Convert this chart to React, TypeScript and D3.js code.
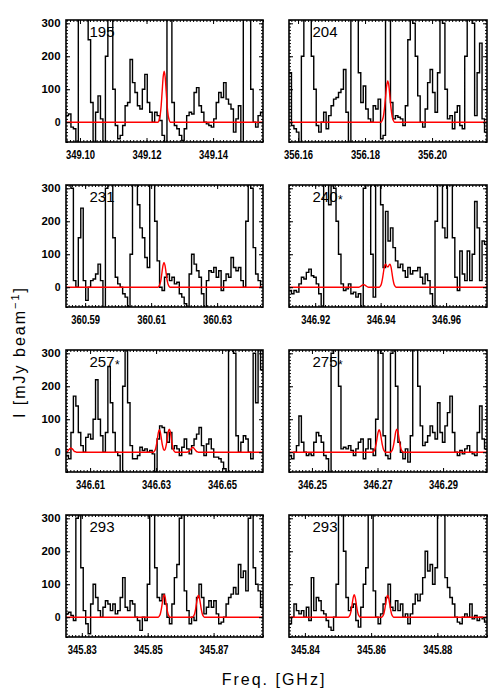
import React, { useEffect, useRef } from "react";
import * as d3 from "d3";

// observed spectra, 80 channels spanning each panel (mJy/beam)
const spec195 = [20, 25, -15, -20, -70, 400, 600, 700, 500, 250,
  60, -80, 30, 80, 10, -80, 200, 600, 350, 100,
  -10, -50, -40, -10, 50, 60, 190, 120, 90, 50,
  40, 100, 145, 60, 30, 0, 30, 20, 5, -40,
  -70, 500, 400, 60, -10, -20, -40, -55, -20, 20,
  30, 25, 90, 105, 50, 30, 0, -5, -10, -15,
  10, 60, 90, 75, 120, 70, 55, 40, -30, 10,
  50, -60, 400, 600, 400, 100, 0, -15, 20, 30];
const spec204 = [150, -10, -20, -30, -70, 200, 450, 600, 350, 200,
  100, -10, -30, 0, 30, -20, 20, 50, 70, 75,
  90, 100, 160, 30, -70, 400, 600, 350, 150, 60,
  110, 40, 10, 0, 50, 40, 70, -50, -40, 400,
  500, 60, 10, 20, 15, 10, -10, 50, 250, 500,
  300, 200, 80, 0, -15, 40, 120, 160, 90, 30,
  150, 500, 300, 100, 10, 20, -20, 30, 50, -10,
  -20, 200, 500, 500, 300, 20, 150, 240, 10, -30];
const spec231 = [500, 600, 300, 20, 0, 150, 240, 20, -40, 0,
  20, 25, 40, 70, 20, -70, 300, 600, 400, 150,
  30, 10, 0, -20, -30, -60, 100, 500, 450, 250,
  180, 150, 90, 60, 400, 500, 200, 80, 0, -10,
  30, 40, 20, 30, 10, 15, -20, -30, -50, -70,
  40, 100, 70, 50, 30, -20, -70, 20, 50, 45,
  60, 30, 50, -10, 20, 40, 30, 90, 60, 50,
  60, 20, 0, 200, 500, 300, 120, 40, 20, 0];
const spec240 = [-10, -20, -10, -15, 10, 30, 25, 45, 55, 35,
  30, 10, -20, -80, 400, 600, 250, 500, 300, 200,
  100, 10, -10, -5, 10, -20, -15, -30, -20, -80,
  300, 600, 500, 100, -30, 400, 600, 250, 60, 230,
  140, 180, 120, 80, 60, 70, 50, 30, 60, 40,
  50, 50, 60, 30, 10, 40, 20, -20, -70, 200,
  500, 600, 180, 150, 600, 400, 150, 30, -10, 110,
  40, 20, 110, 20, 100, 260, 180, 20, 140, 130];
const spec257 = [-10, -20, 60, 170, 140, 60, 20, 0, 45, 55,
  40, 100, 220, 100, 50, 0, 60, 260, 150, 60,
  0, -10, -70, 200, 500, 150, 20, -20, -20, -10,
  15, 5, 10, 0, 5, -5, -60, 40, 80, 75,
  60, 30, 60, 10, 20, 10, -10, 15, 40, 10,
  -5, 20, 40, 55, 75, 20, -10, 25, 40, 10,
  -15, -15, -20, -30, -50, -70, 400, 600, 300, 50,
  0, 30, 50, 40, 0, -20, 300, 150, 500, 250];
const spec275 = [-10, -20, 0, 20, 110, 30, 0, -10, -5, -10,
  30, 60, 50, 30, -10, -20, -80, 300, 600, 450,
  200, 10, 15, 10, 20, 5, -10, 10, 30, 40,
  -20, 10, 40, 10, -10, 100, 500, 300, 50, -10,
  -20, 300, 600, 200, 30, 0, -20, 10, -30, 50,
  500, 400, 200, 80, 20, 30, 50, 80, 60, 40,
  150, 60, 30, 80, 120, 170, 60, 0, -10, 5,
  -5, 10, 20, 0, -5, -10, 60, 140, 40, 10];
const spec293a = [10, 15, 5, -10, 300, 600, 150, 20, -20, -50,
  40, 100, 60, 20, 0, 30, 50, 40, 20, 40,
  10, 20, 60, 120, 30, 20, 50, 40, 0, -10,
  -40, 0, -10, 100, 500, 400, 150, 60, 50, 70,
  40, 0, -20, 40, 120, 160, 300, 500, 80, 20,
  -20, 0, -10, 60, 100, 60, 10, 30, 50, 30,
  50, 10, -20, -15, 0, 40, 60, 70, 90, 70,
  160, 120, 140, 80, 300, 600, 150, 100, 80, 30];
const spec293b = [-20, 0, 40, 20, 10, 20, 0, 30, -10, 120,
  20, 60, 50, 20, 10, -10, -30, -40, 0, 100,
  400, 600, 200, 60, 20, 30, 40, -10, -30, 30,
  100, 150, 500, 400, 80, 0, -20, 10, 40, 60,
  100, 30, 20, 50, 20, 40, 0, 10, -20, 10,
  40, 70, 50, 70, 120, 200, 140, 160, 100, 150,
  500, 600, 400, 120, 90, 60, 40, 0, -15, -20,
  0, 10, 0, 40, -5, 5, -10, 0, -5, -15];

// model (red) line profiles: start freq, step, values
const model195 = [{ f0: 349.1235, df: 0.0003, v: [0, 7, 21, 50, 94, 137, 155, 137, 94, 50, 21, 7, 0] }];
const model204 = [{ f0: 356.1848, df: 0.00033, v: [0, 6, 17, 41, 76, 110, 125, 110, 76, 41, 17, 6, 0] }];
const model231 = [{ f0: 360.6121, df: 0.0003, v: [0, 3, 10, 24, 46, 66, 75, 66, 46, 24, 10, 3, 0] }];
const model240 = [
  { f0: 346.9333, df: 0.0003, v: [0, 1, 3, 5, 7, 8, 7, 5, 3, 1, 0] },
  { f0: 346.9396, df: 0.0003, v: [0, 3, 9, 22, 41, 60, 70, 68, 62, 62, 68, 70, 60, 41, 22, 9, 3, 0] },
];
const model257 = [
  { f0: 346.6024, df: 0.0003, v: [0, 1, 2, 4, 8, 11, 13, 11, 8, 4, 2, 1, 0] },
  { f0: 346.6292, df: 0.0003, v: [0, 3, 9, 22, 41, 60, 68, 60, 41, 22, 10, 6, 10, 23, 43, 62, 70, 62, 43, 23, 9, 3, 0] },
  { f0: 346.6393, df: 0.0003, v: [0, 1, 2, 5, 9, 13, 15, 13, 9, 5, 2, 1, 0] },
];
const model275 = [
  { f0: 346.26855, df: 0.000325, v: [0, 3, 9, 22, 41, 60, 68, 60, 41, 22, 9, 3, 0] },
  { f0: 346.27395, df: 0.000325, v: [0, 3, 9, 23, 43, 62, 70, 62, 43, 23, 9, 3, 0] },
];
const model293a = [
  { f0: 345.8532, df: 0.0003, v: [0, 3, 9, 22, 41, 60, 68, 60, 41, 22, 9, 3, 0] },
  { f0: 345.8636, df: 0.0003, v: [0, 3, 9, 22, 41, 59, 67, 59, 41, 22, 9, 3, 0] },
];
const model293b = [
  { f0: 345.8531, df: 0.0003, v: [0, 3, 9, 22, 41, 60, 68, 60, 41, 22, 9, 3, 0] },
  { f0: 345.8632, df: 0.0003, v: [0, 3, 9, 22, 41, 59, 67, 59, 41, 22, 9, 3, 0] },
];

const spectra = [spec195, spec204, spec231, spec240, spec257, spec275, spec293a, spec293b];
const models = [model195, model204, model231, model240, model257, model275, model293a, model293b];
const panelIds = ["195", "204", "231", "240", "257", "275", "293", "293"];
const starred = [false, false, false, true, true, true, false, false];
const freqLo = [349.0958, 356.1573, 360.5842, 346.912, 346.6027, 346.243, 345.8252, 345.8352];
const freqHi = [349.155, 356.2164, 360.6439, 346.9725, 346.6624, 346.3034, 345.885, 345.895];
const xTickVals = [
  [349.1, 349.12, 349.14], [356.16, 356.18, 356.2],
  [360.59, 360.61, 360.63], [346.92, 346.94, 346.96],
  [346.61, 346.63, 346.65], [346.25, 346.27, 346.29],
  [345.83, 345.85, 345.87], [345.84, 345.86, 345.88],
];
const yTickVals = [0, 100, 200, 300];
const yDomain = [-60, 310];

const FONT = "'Liberation Sans', Arial, Helvetica, sans-serif";

export default function App() {
  const ref = useRef<SVGSVGElement>(null);

  useEffect(() => {
    const svg = d3.select(ref.current);
    svg.selectAll("*").remove();

    const colX = [66, 289], colW = [197, 198];
    const rowY = [20, 185, 350, 515], ph = 122;

    spectra.forEach((spec, k) => {
      const col = k % 2, row = Math.floor(k / 2);
      const x0 = colX[col], y0 = rowY[row], w = colW[col];
      const x = d3.scaleLinear().domain([freqLo[k], freqHi[k]]).range([x0, x0 + w]);
      const y = d3.scaleLinear().domain(yDomain).range([y0 + ph, y0]);
      const g = svg.append("g");

      g.append("clipPath").attr("id", "clip" + k)
        .append("rect").attr("x", x0).attr("y", y0).attr("width", w).attr("height", ph);

      // spectrum drawn as histogram steps
      const df = (freqHi[k] - freqLo[k]) / spec.length;
      const pts: [number, number][] = spec.map((v, i) => [freqLo[k] + (i + 0.5) * df, v]);
      pts.unshift([freqLo[k], spec[0]]);
      pts.push([freqHi[k], spec[spec.length - 1]]);
      const trace = d3.line<[number, number]>().x(d => x(d[0])).y(d => y(d[1])).curve(d3.curveStep);
      g.append("path").datum(pts).attr("clip-path", `url(#clip${k})`)
        .attr("d", trace).attr("fill", "none").attr("stroke", "#000").attr("stroke-width", 1.4);

      // model
      const rp: [number, number][] = [[freqLo[k], 0], [freqHi[k], 0]];
      models[k].forEach(m => m.v.forEach((v, i) => rp.push([m.f0 + i * m.df, v])));
      rp.sort((a, b) => a[0] - b[0]);
      const smooth = d3.line<[number, number]>().x(d => x(d[0])).y(d => y(d[1])).curve(d3.curveMonotoneX);
      g.append("path").datum(rp).attr("clip-path", `url(#clip${k})`)
        .attr("d", smooth).attr("fill", "none").attr("stroke", "#ff0000").attr("stroke-width", 1.4);

      // axes
      const xMinor = d3.range(Math.ceil(freqLo[k] * 1000), Math.floor(freqHi[k] * 1000) + 1).map(v => v / 1000);
      const yMinor = d3.range(-60, 311, 10);
      const blank = () => "";

      const bottom = g.append("g").attr("transform", `translate(0,${y0 + ph})`)
        .call(d3.axisBottom(x).tickValues(xTickVals[k]).tickSize(-4).tickPadding(8).tickFormat(d3.format(".2f")));
      bottom.selectAll("text")
        .attr("font-family", FONT).attr("font-size", 12).attr("font-weight", "bold").attr("fill", "#000")
        .attr("textLength", 29).attr("lengthAdjust", "spacingAndGlyphs");
      g.append("g").attr("transform", `translate(0,${y0 + ph})`)
        .call(d3.axisBottom(x).tickValues(xMinor).tickSize(-2).tickFormat(blank));
      g.append("g").attr("transform", `translate(0,${y0})`)
        .call(d3.axisTop(x).tickValues(xTickVals[k]).tickSize(-4).tickFormat(blank));
      g.append("g").attr("transform", `translate(0,${y0})`)
        .call(d3.axisTop(x).tickValues(xMinor).tickSize(-2).tickFormat(blank));

      const left = g.append("g").attr("transform", `translate(${x0},0)`)
        .call(d3.axisLeft(y).tickValues(yTickVals).tickSize(-4).tickPadding(5.5)
          .tickFormat(col === 0 ? d3.format("d") : blank));
      left.selectAll("text")
        .attr("font-family", FONT).attr("font-size", 10.5).attr("font-weight", "bold").attr("fill", "#000")
        .each(function (d: any) {
          if (d !== 0) d3.select(this).attr("textLength", 19).attr("lengthAdjust", "spacingAndGlyphs");
        });
      g.append("g").attr("transform", `translate(${x0},0)`)
        .call(d3.axisLeft(y).tickValues(yMinor).tickSize(-2).tickFormat(blank));
      g.append("g").attr("transform", `translate(${x0 + w},0)`)
        .call(d3.axisRight(y).tickValues(yTickVals).tickSize(-4).tickFormat(blank));
      g.append("g").attr("transform", `translate(${x0 + w},0)`)
        .call(d3.axisRight(y).tickValues(yMinor).tickSize(-2).tickFormat(blank));

      g.selectAll(".domain").remove();
      g.selectAll(".tick line").attr("stroke", "#000").attr("stroke-width", 1);

      g.append("rect").attr("x", x0).attr("y", y0).attr("width", w).attr("height", ph)
        .attr("fill", "none").attr("stroke", "#000").attr("stroke-width", 1.6);

      const lab = g.append("text").attr("x", x0 + 23.5).attr("y", y0 + 17)
        .attr("font-family", FONT).attr("font-size", 15).attr("fill", "#000").text(panelIds[k]);
      if (starred[k]) lab.append("tspan").attr("font-size", 12).attr("dx", 0.5).attr("dy", 2).text("*");
    });

    // axis titles
    const yt = svg.append("text").attr("transform", "translate(25,352) rotate(-90)")
      .attr("text-anchor", "middle").attr("font-family", FONT).attr("font-size", 16)
      .attr("letter-spacing", 2).attr("fill", "#000");
    yt.append("tspan").text("I [mJy beam");
    yt.append("tspan").attr("font-size", 11).attr("dy", -6).text("−1");
    yt.append("tspan").attr("dy", 6).text("]");

    svg.append("text").attr("x", 274).attr("y", 685).attr("text-anchor", "middle")
      .attr("font-family", FONT).attr("font-size", 16).attr("letter-spacing", 2).attr("fill", "#000")
      .text("Freq. [GHz]");
  }, []);

  return (
    <svg ref={ref} width={500} height={700}
      style={{ position: "absolute", left: 0, top: 0, background: "#fff" }} />
  );
}
